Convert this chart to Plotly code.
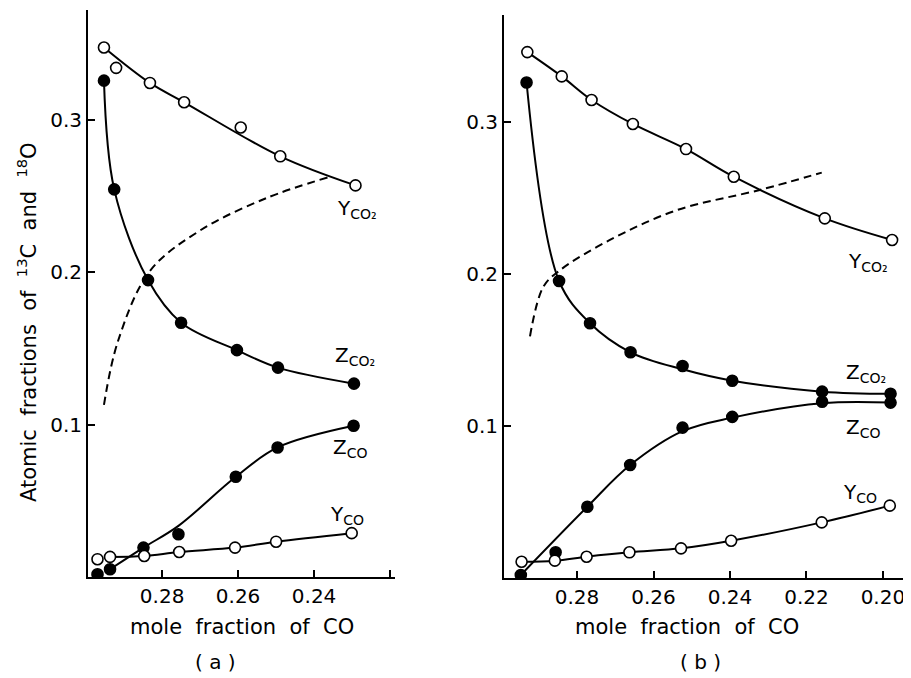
import plotly.graph_objects as go

# ---------------- panel (a) data (measured points) ----------------
a_yco2_x = [0.2953, 0.2921, 0.2832, 0.2742, 0.2593, 0.2489, 0.2291]
a_yco2_y = [0.3478, 0.3344, 0.3245, 0.3118, 0.2952, 0.2763, 0.2572]
a_zco2_x = [0.2953, 0.2926, 0.2837, 0.2750, 0.2603, 0.2495, 0.2295]
a_zco2_y = [0.326, 0.2546, 0.195, 0.167, 0.149, 0.1375, 0.127]
a_zco_x = [0.2970, 0.2937, 0.2849, 0.2757, 0.2606, 0.2496, 0.2296]
a_zco_y = [0.0018, 0.0051, 0.0193, 0.0281, 0.0658, 0.0851, 0.0993]
a_yco_x = [0.2970, 0.2937, 0.2847, 0.2755, 0.2608, 0.2500, 0.2301]
a_yco_y = [0.0117, 0.0132, 0.0138, 0.0164, 0.0193, 0.0232, 0.0288]

# panel (a) drawn curves
a_yco2_curve_x = [0.2953, 0.2832, 0.2742, 0.2489, 0.2291]
a_yco2_curve_y = [0.3478, 0.3245, 0.3118, 0.2763, 0.2572]
a_zco2_curve_x = [0.2953, 0.2926, 0.2837, 0.2750, 0.2603, 0.2495, 0.2295]
a_zco2_curve_y = [0.326, 0.2546, 0.195, 0.167, 0.149, 0.1375, 0.127]
a_zco_curve_x = [0.2937, 0.2849, 0.2757, 0.2606, 0.2496, 0.2296]
a_zco_curve_y = [0.0051, 0.0193, 0.0336, 0.0658, 0.0851, 0.0993]
a_yco_curve_x = [0.2937, 0.2847, 0.2755, 0.2608, 0.2500, 0.2301]
a_yco_curve_y = [0.0132, 0.0138, 0.0164, 0.0193, 0.0232, 0.0288]
a_dash_x = [0.2953, 0.2916, 0.2832, 0.2700, 0.2524, 0.2363]
a_dash_y = [0.113, 0.155, 0.201, 0.2276, 0.249, 0.2625]

# ---------------- panel (b) data (measured points) ----------------
b_yco2_x = [0.2930, 0.2840, 0.2762, 0.2654, 0.2515, 0.2390, 0.2152, 0.1976]
b_yco2_y = [0.346, 0.330, 0.3145, 0.2987, 0.2822, 0.264, 0.2366, 0.2224]
b_zco2_x = [0.2932, 0.2847, 0.2766, 0.2660, 0.2524, 0.2394, 0.2159, 0.1980]
b_zco2_y = [0.326, 0.1954, 0.1676, 0.1485, 0.1395, 0.1298, 0.1226, 0.1212]
b_zco_x = [0.2947, 0.2856, 0.2773, 0.2661, 0.2524, 0.2394, 0.2159, 0.1980]
b_zco_y = [0.002, 0.0169, 0.0469, 0.0743, 0.0989, 0.106, 0.116, 0.1154]
b_yco_x = [0.2945, 0.2858, 0.2775, 0.2663, 0.2528, 0.2397, 0.2160, 0.1982]
b_yco_y = [0.0107, 0.0114, 0.014, 0.0169, 0.0195, 0.0245, 0.0366, 0.0476]

# panel (b) drawn curves
b_zco2_curve_x = [0.2932, 0.2847, 0.2766, 0.2660, 0.2524, 0.2394, 0.2159, 0.1980]
b_zco2_curve_y = [0.326, 0.1954, 0.1676, 0.1485, 0.1373, 0.1298, 0.1226, 0.1212]
b_zco_curve_x = [0.2947, 0.2773, 0.2661, 0.2524, 0.2394, 0.2159, 0.1980]
b_zco_curve_y = [0.002, 0.0469, 0.0743, 0.0966, 0.1055, 0.1150, 0.1154]
b_dash_x = [0.2923, 0.2888, 0.2844, 0.2714, 0.2539, 0.2322, 0.2160]
b_dash_y = [0.159, 0.1916, 0.2026, 0.2224, 0.242, 0.2553, 0.2667]

FONT = "DejaVu Sans"
BLACK = "#000000"

# figure is drawn inside the page body (default body margin)
W, H = 903, 670


def px(x):
    return (x - 8) / W


def py(y):
    return 1 - (y - 8) / H


fig = go.Figure()


def add_curve(xs, ys, xa, ya, dash=None):
    fig.add_trace(go.Scatter(x=xs, y=ys, mode="lines", xaxis=xa, yaxis=ya,
                             line=dict(color=BLACK, width=2, shape="spline", smoothing=1.0,
                                       dash=dash),
                             showlegend=False, hoverinfo="skip"))


def add_points(xs, ys, filled, xa, ya):
    fig.add_trace(go.Scatter(x=xs, y=ys, mode="markers", xaxis=xa, yaxis=ya,
                             marker=dict(size=11, color=BLACK if filled else "white",
                                         line=dict(color=BLACK, width=1.6)),
                             showlegend=False))


DASH = "8px,5px"
add_curve(a_dash_x, a_dash_y, "x", "y", DASH)
add_curve(b_dash_x, b_dash_y, "x2", "y2", DASH)

add_curve(a_yco2_curve_x, a_yco2_curve_y, "x", "y")
add_curve(a_zco2_curve_x, a_zco2_curve_y, "x", "y")
add_curve(a_zco_curve_x, a_zco_curve_y, "x", "y")
add_curve(a_yco_curve_x, a_yco_curve_y, "x", "y")
add_points(a_yco2_x, a_yco2_y, False, "x", "y")
add_points(a_zco2_x, a_zco2_y, True, "x", "y")
add_points(a_zco_x, a_zco_y, True, "x", "y")
add_points(a_yco_x, a_yco_y, False, "x", "y")

add_curve(b_yco2_x, b_yco2_y, "x2", "y2")
add_curve(b_zco2_curve_x, b_zco2_curve_y, "x2", "y2")
add_curve(b_zco_curve_x, b_zco_curve_y, "x2", "y2")
add_curve(b_yco_x, b_yco_y, "x2", "y2")
add_points(b_yco2_x, b_yco2_y, False, "x2", "y2")
add_points(b_zco2_x, b_zco2_y, True, "x2", "y2")
add_points(b_zco_x, b_zco_y, True, "x2", "y2")
add_points(b_yco_x, b_yco_y, False, "x2", "y2")

axis_common = dict(showgrid=False, zeroline=False, showline=True, linecolor=BLACK,
                   linewidth=2, ticks="inside", tickcolor=BLACK, tickwidth=1.5,
                   ticklen=7, tickfont=dict(family=FONT, size=20, color=BLACK))

fig.update_layout(
    width=W, height=H,
    margin=dict(l=0, r=0, t=0, b=0),
    paper_bgcolor="white", plot_bgcolor="white",
    xaxis=dict(domain=[px(88), px(395)], range=[0.2995, 0.2187], anchor="y",
               tickvals=[0.28, 0.26, 0.24, 0.22], ticktext=["0.28", "0.26", "0.24", ""],
               **axis_common),
    yaxis=dict(domain=[py(577), py(10)], range=[0, 0.3724], anchor="x",
               tickvals=[0.1, 0.2, 0.3], ticktext=["0.1", "0.2", "0.3"], **axis_common),
    xaxis2=dict(domain=[px(504), px(907)], range=[0.2991, 0.1937], anchor="y2",
                tickvals=[0.28, 0.26, 0.24, 0.22, 0.20],
                ticktext=["0.28", "0.26", "0.24", "0.22", "0.20"], **axis_common),
    yaxis2=dict(domain=[py(578), py(15)], range=[0, 0.3704], anchor="x2",
                tickvals=[0.1, 0.2, 0.3], ticktext=["0.1", "0.2", "0.3"], **axis_common),
)

lab_font = dict(family=FONT, size=20, color=BLACK)
labels = [
    ("x", "y", 0.2287, 0.242, "Y<sub>CO₂</sub>"),
    ("x", "y", 0.2292, 0.145, "Z<sub>CO₂</sub>"),
    ("x", "y", 0.2305, 0.085, "Z<sub>CO</sub>"),
    ("x", "y", 0.2313, 0.041, "Y<sub>CO</sub>"),
    ("x2", "y2", 0.2039, 0.208, "Y<sub>CO₂</sub>"),
    ("x2", "y2", 0.2043, 0.1346, "Z<sub>CO₂</sub>"),
    ("x2", "y2", 0.2051, 0.0985, "Z<sub>CO</sub>"),
    ("x2", "y2", 0.2060, 0.0557, "Y<sub>CO</sub>"),
]
for xr, yr, x, y, t in labels:
    fig.add_annotation(xref=xr, yref=yr, x=x, y=y, text=t, showarrow=False, font=lab_font,
                       xanchor="center", yanchor="middle")

title_font = dict(family=FONT, size=21, color=BLACK)
paper_texts = [
    (242, 627, "mole  fraction  of  CO", 0, 21),
    (687, 627, "mole  fraction  of  CO", 0, 21),
    (215, 662, "( a )", 0, 20),
    (700, 662, "( b )", 0, 20),
    (27, 322, "Atomic  fractions  of  <sup>13</sup>C  and  <sup>18</sup>O", -90, 21),
]
for x, y, t, ang, sz in paper_texts:
    fig.add_annotation(xref="paper", yref="paper", x=px(x), y=py(y), text=t,
                       showarrow=False, font=dict(family=FONT, size=sz, color=BLACK),
                       textangle=ang, xanchor="center", yanchor="middle")

fig.write_html("out.html")
